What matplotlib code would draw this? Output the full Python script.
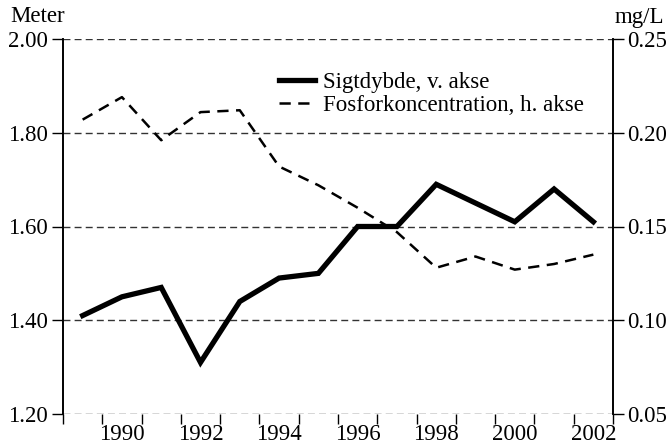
import matplotlib.pyplot as plt
from matplotlib.ticker import FixedLocator

plt.rcParams['font.family'] = ['Liberation Serif', 'DejaVu Serif']

years = list(range(1989, 2003))
secchi = [1.41, 1.45, 1.47, 1.31, 1.44, 1.49, 1.50, 1.60, 1.60, 1.69, 1.65, 1.61, 1.68, 1.61]
phosphor = [0.207, 0.219, 0.196, 0.211, 0.212, 0.182, 0.172, 0.160, 0.147, 0.128, 0.134, 0.127, 0.130, 0.135]
label_years = [1990, 1992, 1994, 1996, 1998, 2000, 2002]

fs = 16.5
fig = plt.figure(figsize=(6.72, 4.47), dpi=100)
ax = fig.add_axes([63 / 672, 33 / 447, 550 / 672, 375 / 447])
ax2 = ax.twinx()

# gridlines drawn by hand along left axis values
for v in [1.20, 1.40, 1.60, 1.80, 2.00]:
    ax.axhline(v, color='#333333', lw=1.0, ls=(0, (5, 3)), zorder=0)

l1, = ax.plot(years, secchi, color='black', lw=3.8, solid_joinstyle='miter', zorder=3)
l2, = ax2.plot(years, phosphor, color='black', lw=1.8, ls=(0, (4.5, 3)), zorder=2)

ax.set_xlim(1988.5, 2002.5)
ax.set_ylim(1.20, 2.00)
ax2.set_ylim(0.05, 0.25)

ax.set_yticks([1.20, 1.40, 1.60, 1.80, 2.00])
ax.set_yticklabels(['%.2f' % v for v in [1.20, 1.40, 1.60, 1.80, 2.00]], fontsize=fs)
ax2.set_yticks([0.05, 0.10, 0.15, 0.20, 0.25])
ax2.set_yticklabels(['%.2f' % v for v in [0.05, 0.10, 0.15, 0.20, 0.25]], fontsize=fs)

# tick marks between categories, labels at category centres
ax.xaxis.set_major_locator(FixedLocator([y - 0.5 for y in years] + [2002.5]))
ax.set_xticklabels([])
ax.xaxis.set_minor_locator(FixedLocator(label_years))
ax.set_xticklabels([str(y) for y in label_years], minor=True, fontsize=fs)
ax.tick_params(axis='x', which='major', length=7, width=1, direction='out')
ax.tick_params(axis='x', which='minor', length=0, pad=7)
ax.tick_params(axis='y', length=8, width=1, pad=3)
ax2.tick_params(axis='y', length=8, width=1, pad=2)

for a in (ax, ax2):
    a.spines['top'].set_visible(False)
    a.spines['bottom'].set_visible(False)
    a.spines['left'].set_linewidth(1.2)
    a.spines['right'].set_linewidth(1.2)

fig.text(10 / 672, 1 - 17 / 447, 'Meter', fontsize=fs, va='center', ha='left')
fig.text(664 / 672, 1 - 17 / 447, 'mg/L', fontsize=fs, va='center', ha='right')

ax.legend([l1, l2], ['Sigtdybde, v. akse', 'Fosforkoncentration, h. akse'],
          loc='upper left', bbox_to_anchor=(279 / 672, 1 - 72 / 447),
          bbox_transform=fig.transFigure, frameon=False, fontsize=fs,
          handlelength=1.57, handletextpad=0.35, labelspacing=0.1,
          borderpad=0, borderaxespad=0)

fig.savefig('out.png', dpi=100)
